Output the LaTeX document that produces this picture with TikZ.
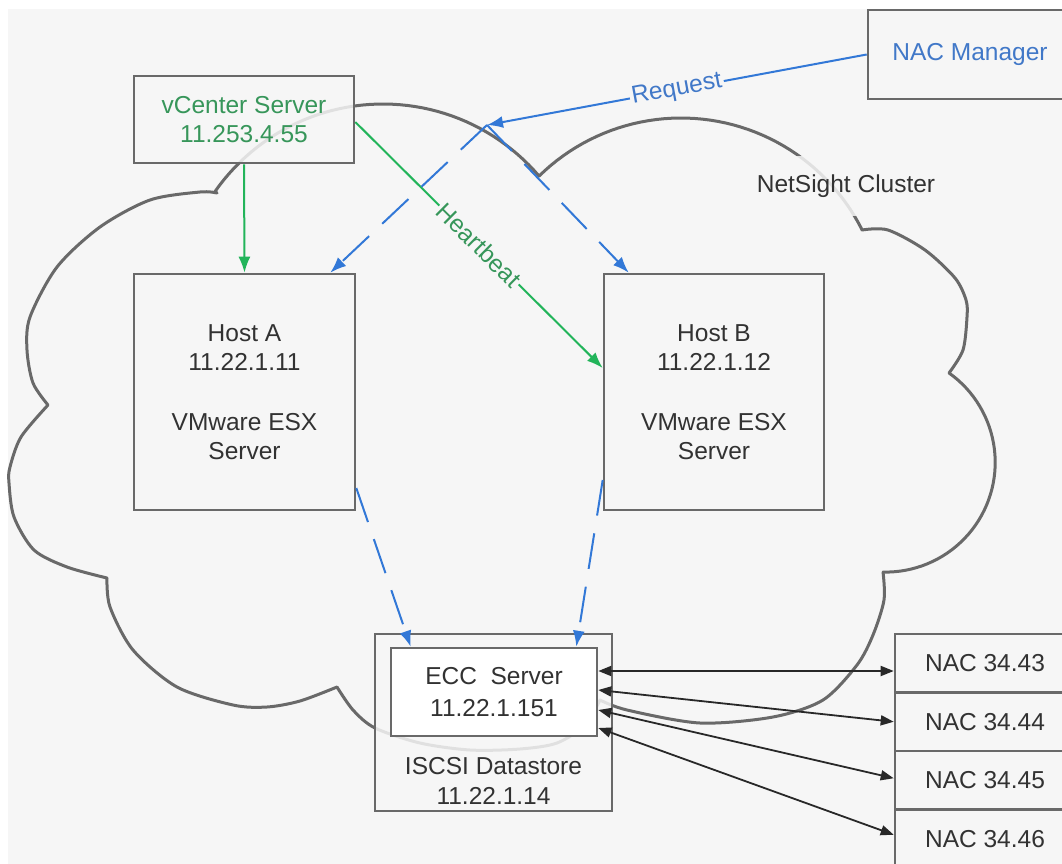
\documentclass[tikz,border=0pt]{standalone}
\usepackage{fontspec}
\setmainfont{Liberation Sans}
\usetikzlibrary{arrows.meta,calc}
\definecolor{bgcol}{RGB}{246,246,246}
\definecolor{linegray}{RGB}{105,105,105}
\definecolor{txtgray}{RGB}{50,50,50}
\definecolor{agreen}{RGB}{34,180,90}
\definecolor{tgreen}{RGB}{55,150,90}
\definecolor{ablue}{RGB}{50,120,215}
\definecolor{tblue}{RGB}{65,120,200}
\definecolor{ablack}{RGB}{40,40,40}
\begin{document}
\begin{tikzpicture}[x=1pt,y=-1pt,
  every node/.style={font=\fontsize{24.5}{29.5}\selectfont, text=txtgray},
  box/.style={draw=linegray, line width=2.6pt, fill=bgcol, fill opacity=0.85, text opacity=1, align=center, inner sep=0pt},
  cloudline/.style={draw=linegray, line width=3pt, line join=round},
  garrow/.style={draw=agreen, line width=2pt, -{Latex[length=16pt,width=12pt]}},
  barrow/.style={draw=ablue, line width=2pt, -{Latex[length=16pt,width=12pt]}},
  bdash/.style={barrow, dash pattern=on 36pt off 18pt},
  narrow/.style={draw=ablack, line width=1.8pt, {Triangle[length=13pt,width=10pt]}-{Triangle[length=13pt,width=10pt]}},
  lbl/.style={fill=bgcol, inner sep=2pt, sloped}
]
\useasboundingbox (0,0) rectangle (1062,864);
\clip (0,0) rectangle (1062,864);
\fill[white] (0,0) rectangle (1062,864);
\fill[bgcol] (8,9) rectangle (1062,864);

% cloud
\draw[cloudline]
  plot[domain=215:319.6,samples=50] ({383+205*cos(\x)},{309+205*sin(\x)})
  -- plot[domain=225.5:333.4,samples=50] ({681+202.5*cos(\x)},{320.5+202.5*sin(\x)})
  -- plot[smooth] coordinates {(862,230) (888,230) (925,250) (955,278) (966,300) (967,317) (963,350) (949,373)}
  -- plot[domain=-54.6:91.3,samples=50] ({885.5+109.7*cos(\x)},{462.4+109.7*sin(\x)})
  -- plot[smooth] coordinates {(883,572) (884,600) (873,635) (857,665) (823,700) (773,717) (700,723) (627,710) (600,700)}
  -- plot[smooth] coordinates {(600,700) (585,725) (557,743) (520,749) (470,750) (420,743) (375,728) (353,710) (337,687)}
  -- plot[smooth] coordinates {(337,687) (300,701) (267,707) (233,705) (177,687) (133,650) (110,607) (107,578)}
  -- plot[smooth] coordinates {(107,578) (67,567) (34,550) (14,517) (9,483) (10,467) (21,437) (48,405)}
  -- plot[smooth] coordinates {(48,405) (33,383) (27,350) (30,317) (57,267) (100,227) (150,200) (200,192) (217,193)}
  -- cycle;

\node[fill=bgcol, fill opacity=0.85, text opacity=1, minimum width=190pt, minimum height=60pt] (ns) at (846,186) {NetSight Cluster};

% boxes
\node[box, minimum width=220pt, minimum height=87pt, text=tgreen] (vc) at (244,119.5) {vCenter Server\\11.253.4.55};
\node[box, minimum width=204pt, minimum height=89pt, text=tblue] (nm) at (970,54.5) {NAC Manager};
\node[box, minimum width=221pt, minimum height=236pt] (hA) at (244.5,392) {Host A\\11.22.1.11\\[30pt]VMware ESX\\Server};
\node[box, minimum width=220pt, minimum height=236pt] (hB) at (714,392) {Host B\\11.22.1.12\\[30pt]VMware ESX\\Server};
\node[box, minimum width=237pt, minimum height=177pt] (iscsi) at (493.5,722.5) {};
\node (iscsil) at (493.5,781) [align=center] {ISCSI Datastore\\11.22.1.14};
\node[box, fill=white, fill opacity=1, minimum width=206pt, minimum height=88pt] (ecc) at (494,692) {ECC\ \ Server\\[2pt]11.22.1.151};
\node[box, minimum width=180pt, minimum height=58.5pt] (n1) at (985,663.25) {NAC 34.43};
\node[box, minimum width=180pt, minimum height=58.5pt] (n2) at (985,721.75) {NAC 34.44};
\node[box, minimum width=180pt, minimum height=58.5pt] (n3) at (985,780.25) {NAC 34.45};
\node[box, minimum width=180pt, minimum height=58.5pt] (n4) at (985,838.75) {NAC 34.46};

\coordinate (hub) at (487,125);

% connectors
\draw[garrow] (vc.south) -- (hA.north);
\draw[garrow] ($(vc.east)+(0,2.5)$) -- node[lbl, text=tgreen] {Heartbeat} ($(hB.west)+(0,-24)$);
\draw[barrow] (nm.west) -- node[lbl, text=tblue] {Request} (hub);
\draw[bdash] (hub) -- ($(hA.north east)+(-26,0)$);
\draw[bdash] (hub) -- ($(hB.north west)+(26,0)$);
\draw[bdash] ($(hA.east)+(0,96)$) -- ($(ecc.north west)+(21,0)$);
\draw[bdash] ($(hB.west)+(0,88)$) -- ($(ecc.north east)+(-22,0)$);
\draw[narrow] ($(ecc.east)+(0,-21)$) -- ($(n1.west)+(0,7.75)$);
\draw[narrow] ($(ecc.east)+(0,-2)$) -- ($(n2.west)+(0,0)$);
\draw[narrow] ($(ecc.east)+(0,18)$) -- ($(n3.west)+(0,-2)$);
\draw[narrow] ($(ecc.east)+(0,36)$) -- ($(n4.west)+(0,-4)$);
\end{tikzpicture}
\end{document}
